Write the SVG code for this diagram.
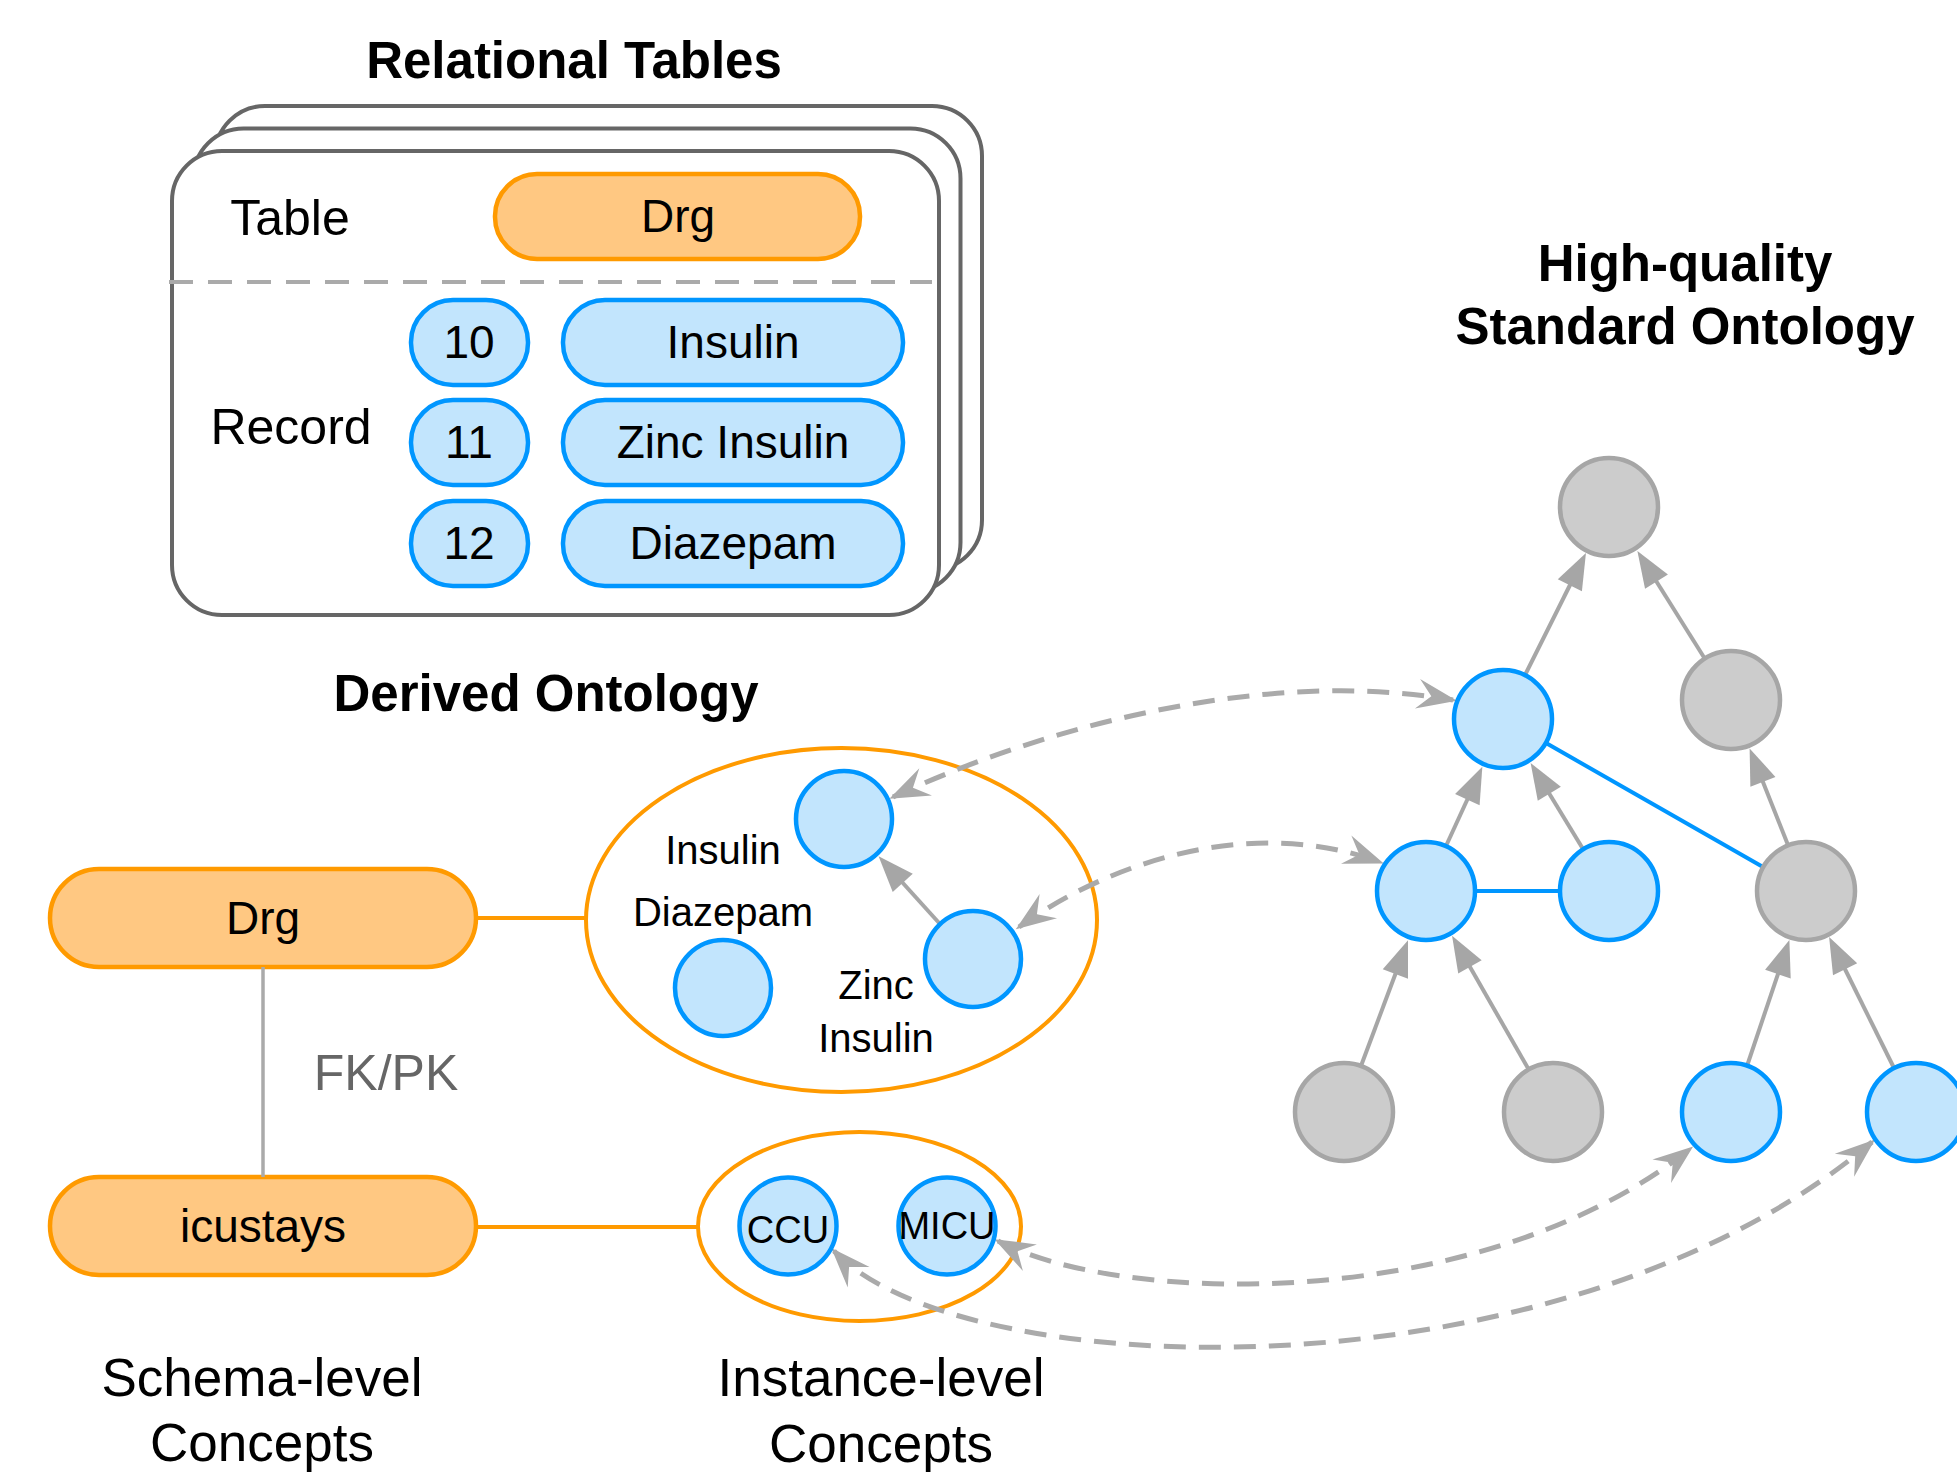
<svg xmlns="http://www.w3.org/2000/svg" width="1957" height="1472" viewBox="0 0 1957 1472">
<style>
text{font-family:"Liberation Sans",Arial,sans-serif;fill:#000;text-anchor:middle;dominant-baseline:central}
.title{font-size:51px;font-weight:700}
.lbl{font-size:50px}
.pt{font-size:46px}
.dl{font-size:40px}
.sm{font-size:38px}
.cap{font-size:53px}
.sheet{fill:#fff;stroke:#666;stroke-width:4}
.orange{fill:#FFC882;stroke:#FF9A00;stroke-width:4.5}
.blue{fill:#C2E5FD;stroke:#0096FF;stroke-width:4.5}
.gray{fill:#CCCCCC;stroke:#A6A6A6;stroke-width:4.5}
.ell{fill:none;stroke:#FF9A00;stroke-width:4}
.oline{stroke:#FF9A00;stroke-width:4;fill:none}
.bline{stroke:#0096FF;stroke-width:4;fill:none}
.sline{stroke:#A6A6A6;stroke-width:4;fill:none;marker-end:url(#ah)}
.dash{stroke:#AAAAAA;stroke-width:5;fill:none;stroke-dasharray:22 13;marker-start:url(#dh);marker-end:url(#dh)}
</style>
<defs>
<marker id="ah" markerUnits="userSpaceOnUse" viewBox="-18 -15 40 30" markerWidth="40" markerHeight="30" refX="0" refY="0" orient="auto">
<path d="M20,0 L-16,-13.5 L-16,13.5 Z" fill="#A6A6A6"/>
</marker>
<marker id="dh" markerUnits="userSpaceOnUse" viewBox="-38 -17 46 34" markerWidth="46" markerHeight="34" refX="0" refY="0" orient="auto-start-reverse">
<path d="M4,0 L-36,-15 L-22,0 L-36,15 Z" fill="#AAAAAA"/>
</marker>
</defs>
<rect width="1957" height="1472" fill="#fff"/>

<g id="relational-tables">
<text class="title" x="574" y="60">Relational Tables</text>
<rect class="sheet" x="215" y="106" width="767" height="464" rx="50"/>
<rect class="sheet" x="193.5" y="128.5" width="767" height="464" rx="50"/>
<rect class="sheet" x="172" y="151" width="767" height="464" rx="50"/>
<line x1="169" y1="282" x2="932" y2="282" stroke="#AAAAAA" stroke-width="4" stroke-dasharray="24 15"/>
<text class="lbl" x="290" y="218">Table</text>
<text class="lbl" x="291" y="427">Record</text>
<g id="tbl-drg"><rect class="orange" x="495" y="174" width="365" height="85" rx="42"/><text class="pt" x="678" y="216">Drg</text></g>
<g id="tbl-10"><rect class="blue" x="411" y="300" width="117" height="85" rx="42"/><text class="pt" x="469" y="342">10</text></g>
<g id="tbl-11"><rect class="blue" x="411" y="400" width="117" height="85" rx="42"/><text class="pt" x="469" y="442">11</text></g>
<g id="tbl-12"><rect class="blue" x="411" y="501" width="117" height="85" rx="42"/><text class="pt" x="469" y="543">12</text></g>
<g id="tbl-insulin"><rect class="blue" x="563" y="300" width="340" height="85" rx="42"/><text class="pt" x="733" y="342">Insulin</text></g>
<g id="tbl-zinc"><rect class="blue" x="563" y="400" width="340" height="85" rx="42"/><text class="pt" x="733" y="442">Zinc Insulin</text></g>
<g id="tbl-diazepam"><rect class="blue" x="563" y="501" width="340" height="85" rx="42"/><text class="pt" x="733" y="543">Diazepam</text></g>
</g>

<g id="titles">
<text class="title" x="546" y="693">Derived Ontology</text>
<text class="title" x="1685" y="263">High-quality</text>
<text class="title" x="1685" y="326">Standard Ontology</text>
</g>

<g id="schema-drg"><rect class="orange" x="50" y="869" width="426" height="98" rx="49"/><text class="pt" x="263" y="918">Drg</text></g>
<g id="schema-icustays"><rect class="orange" x="50" y="1177" width="426" height="98" rx="49"/><text class="pt" x="263" y="1226">icustays</text></g>
<g id="fkpk"><text class="lbl" x="386" y="1073" style="fill:#666">FK/PK</text></g>

<g id="derived-group"><ellipse class="ell" cx="841.5" cy="920" rx="255.5" ry="172"/></g>
<g id="instance-group"><ellipse class="ell" cx="859.5" cy="1226.5" rx="161.5" ry="94.5"/></g>

<g id="connectors">
<line x1="263" y1="967" x2="263" y2="1177" stroke="#AAAAAA" stroke-width="3.5"/>
<line class="oline" x1="476" y1="918" x2="586" y2="918"/>
<line class="oline" x1="476" y1="1227" x2="698" y2="1227"/>
<line class="sline" x1="940" y1="924" x2="892" y2="871"/>
<line class="sline" x1="1525" y1="675" x2="1577" y2="571"/>
<line class="sline" x1="1705" y1="659" x2="1648" y2="568"/>
<line class="sline" x1="1446" y1="846" x2="1474" y2="785"/>
<line class="sline" x1="1583" y1="849" x2="1541" y2="780"/>
<line class="sline" x1="1788" y1="845" x2="1757" y2="767"/>
<line class="sline" x1="1361" y1="1066" x2="1401" y2="959"/>
<line class="sline" x1="1529" y1="1070" x2="1462" y2="953"/>
<line class="sline" x1="1747" y1="1066" x2="1783" y2="959"/>
<line class="sline" x1="1894" y1="1068" x2="1838" y2="955"/>
<line class="bline" x1="1546" y1="743" x2="1763" y2="867"/>
<line class="bline" x1="1475" y1="891" x2="1560" y2="891"/>
<path class="dash" d="M893,797 C1050,724 1270,668 1453,700"/>
<path class="dash" d="M1019,927 C1120,855 1260,818 1380,862"/>
<path class="dash" d="M998,1241 C1120,1305 1480,1315 1690,1149"/>
<path class="dash" d="M834,1251 C960,1385 1560,1405 1872,1142"/>
</g>

<g id="d-insulin"><circle class="blue" cx="844" cy="819" r="48"/></g>
<g id="d-zinc"><circle class="blue" cx="973" cy="959" r="48"/></g>
<g id="d-diazepam"><circle class="blue" cx="723" cy="988" r="48"/></g>
<g id="d-labels">
<text class="dl" x="723" y="850">Insulin</text>
<text class="dl" x="723" y="912">Diazepam</text>
<text class="dl" x="876" y="985">Zinc</text>
<text class="dl" x="876" y="1038">Insulin</text>
</g>
<g id="i-ccu"><circle class="blue" cx="788" cy="1226" r="48.5"/><text class="sm" x="788" y="1230">CCU</text></g>
<g id="i-micu"><circle class="blue" cx="947" cy="1226" r="48.5"/><text class="sm" x="947" y="1226">MICU</text></g>

<g id="s-root"><circle class="gray" cx="1609" cy="507" r="49"/></g>
<g id="s-a"><circle class="blue" cx="1503" cy="719" r="49"/></g>
<g id="s-b"><circle class="gray" cx="1731" cy="700" r="49"/></g>
<g id="s-c"><circle class="blue" cx="1426" cy="891" r="49"/></g>
<g id="s-d"><circle class="blue" cx="1609" cy="891" r="49"/></g>
<g id="s-e"><circle class="gray" cx="1806" cy="891" r="49"/></g>
<g id="s-f"><circle class="gray" cx="1344" cy="1112" r="49"/></g>
<g id="s-g"><circle class="gray" cx="1553" cy="1112" r="49"/></g>
<g id="s-h"><circle class="blue" cx="1731" cy="1112" r="49"/></g>
<g id="s-i"><circle class="blue" cx="1916" cy="1112" r="49"/></g>

<g id="captions">
<text class="cap" x="262" y="1377">Schema-level</text>
<text class="cap" x="262" y="1442">Concepts</text>
<text class="cap" x="881" y="1377">Instance-level</text>
<text class="cap" x="881" y="1443">Concepts</text>
</g>
</svg>
